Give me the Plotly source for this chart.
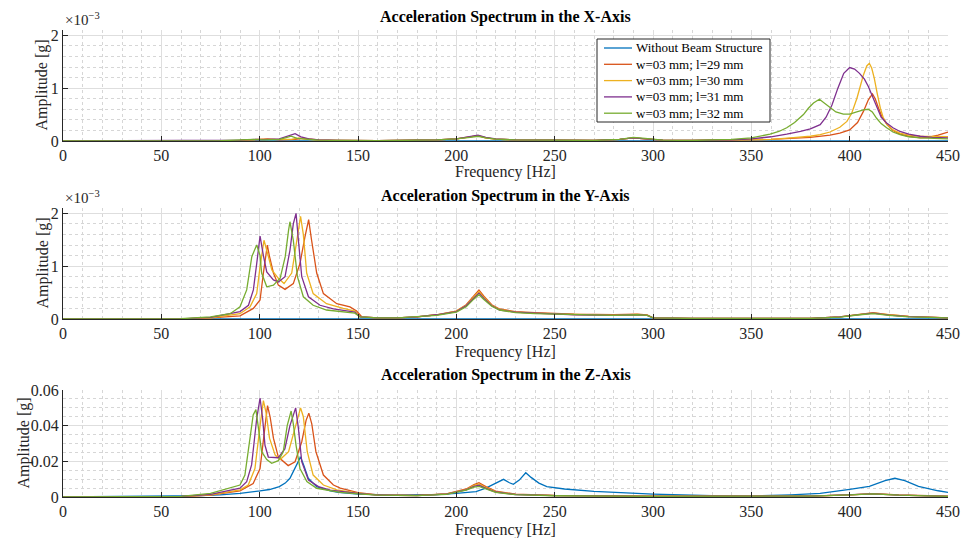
import plotly.graph_objects as go

# ---------------- DATA ----------------
series_names = ["Without Beam Structure", "w=03 mm; l=29 mm", "w=03 mm; l=30 mm",
                "w=03 mm; l=31 mm", "w=03 mm; l=32 mm"]
series_colors = ["#0072BD", "#D95319", "#EDB120", "#7E2F8E", "#77AC30"]

# X-axis spectrum (amplitude in 1e-3 g)
x_ref_f = [0, 100, 118, 200, 450]
x_ref_a = [0.0, 0.004, 0.006, 0.004, 0.004]
x_l29_f = [0, 80, 90, 100, 104, 110, 118, 122, 125, 130, 140, 160, 190, 200, 207, 211, 215, 220, 230, 250, 270,
           283, 290, 296, 305, 320, 340, 360, 370, 380, 390, 395, 400, 404, 407, 409.5, 411.6, 413, 414.7, 416.5,
           419, 422, 425.6, 430, 436, 440, 445, 450]
x_l29_a = [0, 0.005, 0.01, 0.03, 0.04, 0.02, 0.03, 0.05, 0.04, 0.02, 0.01, 0.005, 0.02, 0.04, 0.08, 0.1, 0.06,
           0.035, 0.02, 0.01, 0.01, 0.03, 0.06, 0.04, 0.015, 0.01, 0.015, 0.03, 0.05, 0.07, 0.11, 0.15, 0.21, 0.35,
           0.56, 0.78, 0.89, 0.8, 0.62, 0.45, 0.31, 0.2, 0.13, 0.09, 0.06, 0.07, 0.11, 0.17]
x_l30_f = [0, 80, 90, 100, 104, 110, 116, 120, 124, 130, 140, 160, 190, 200, 207, 211, 215, 220, 230, 250, 270,
           283, 290, 296, 305, 320, 340, 360, 370, 380, 385, 390, 395, 398.6, 401, 403.7, 405.5, 407, 408.7, 410,
           411.2, 412.5, 414, 415.6, 417, 419, 422, 425.6, 430, 436, 450]
x_l30_a = [0, 0.005, 0.01, 0.03, 0.03, 0.02, 0.03, 0.06, 0.03, 0.015, 0.01, 0.005, 0.02, 0.04, 0.08, 0.1, 0.06,
           0.035, 0.02, 0.01, 0.01, 0.03, 0.06, 0.04, 0.015, 0.01, 0.015, 0.03, 0.06, 0.09, 0.12, 0.17, 0.26, 0.37,
           0.52, 0.81, 1.05, 1.25, 1.42, 1.47, 1.38, 1.19, 0.9, 0.62, 0.45, 0.31, 0.21, 0.15, 0.11, 0.09, 0.08]
x_l31_f = [0, 80, 90, 98, 102, 110, 115, 118, 121, 125, 130, 140, 160, 190, 200, 207, 211, 215, 220, 230, 250,
           270, 283, 290, 296, 305, 320, 340, 350, 360, 368, 375, 380, 385, 388, 391, 394, 397, 400, 402.5, 405,
           407.5, 409.5, 411.5, 413.7, 416, 418.8, 422, 425.6, 430, 435.8, 442, 450]
x_l31_a = [0, 0.005, 0.015, 0.03, 0.025, 0.04, 0.1, 0.14, 0.08, 0.04, 0.02, 0.01, 0.005, 0.02, 0.04, 0.08, 0.11,
           0.07, 0.04, 0.02, 0.01, 0.01, 0.03, 0.06, 0.04, 0.015, 0.01, 0.02, 0.04, 0.08, 0.13, 0.18, 0.23, 0.31,
           0.45, 0.68, 1.0, 1.28, 1.39, 1.36, 1.28, 1.17, 1.03, 0.85, 0.62, 0.45, 0.34, 0.25, 0.18, 0.13, 0.09,
           0.07, 0.06]
x_l32_f = [0, 80, 90, 97, 102, 110, 113, 116, 119, 124, 130, 140, 160, 190, 200, 207, 211, 215, 220, 230, 250,
           270, 283, 290, 296, 305, 320, 340, 350, 355, 359.5, 364, 368, 372, 376.5, 379, 381.6, 384.6, 387, 390,
           393, 396.8, 400, 403.6, 407, 409.5, 411.5, 413.7, 416, 418.8, 422, 425.6, 430, 436, 450]
x_l32_a = [0, 0.005, 0.02, 0.03, 0.02, 0.03, 0.06, 0.09, 0.05, 0.03, 0.015, 0.01, 0.005, 0.02, 0.04, 0.07, 0.09,
           0.06, 0.035, 0.02, 0.01, 0.01, 0.03, 0.07, 0.05, 0.015, 0.01, 0.03, 0.06, 0.09, 0.13, 0.18, 0.25, 0.35,
           0.5, 0.62, 0.72, 0.79, 0.72, 0.62, 0.55, 0.51, 0.51, 0.55, 0.59, 0.60, 0.55, 0.43, 0.33, 0.25, 0.17,
           0.12, 0.08, 0.06, 0.04]

# Y-axis spectrum (amplitude in 1e-3 g)
y_ref_f = [0, 450]
y_ref_a = [0.0, 0.0]
y_l29_f = [0, 60, 75, 90, 96.8, 100.2, 101.9, 103.9, 104.9, 107, 109.5, 112.9, 117.1, 120.5, 123, 124.9, 126.4,
           129, 132.4, 139.2, 145.9, 149.3, 152, 160, 170, 180, 190, 200, 205, 209, 211.5, 214, 218, 222, 230,
           240, 260, 280, 292, 297, 300, 320, 380, 395, 405, 412, 420, 430, 450]
y_l29_a = [0, 0.003, 0.02, 0.06, 0.2, 0.36, 0.87, 1.40, 1.2, 0.87, 0.64, 0.56, 0.67, 1.05, 1.55, 1.88, 1.49, 0.87,
           0.48, 0.29, 0.23, 0.15, 0.04, 0.02, 0.02, 0.04, 0.08, 0.15, 0.27, 0.45, 0.55, 0.43, 0.27, 0.19, 0.14,
           0.12, 0.09, 0.08, 0.09, 0.08, 0.02, 0.01, 0.01, 0.04, 0.09, 0.12, 0.08, 0.05, 0.02]
y_l30_f = [0, 60, 75, 90, 95.1, 98.5, 100.2, 102.2, 103.6, 106.2, 109.5, 112.4, 116.3, 118.8, 120.8, 122.2, 123.9,
           127.2, 134, 142.5, 148.4, 151, 160, 170, 180, 190, 200, 205, 209, 211.5, 214, 218, 222, 230, 240, 260,
           280, 292, 297, 300, 320, 380, 395, 405, 412, 420, 430, 450]
y_l30_a = [0, 0.003, 0.02, 0.1, 0.23, 0.48, 0.99, 1.49, 1.3, 0.93, 0.77, 0.67, 0.87, 1.49, 1.94, 1.6, 0.87, 0.48,
           0.29, 0.2, 0.15, 0.04, 0.02, 0.02, 0.04, 0.08, 0.15, 0.26, 0.43, 0.52, 0.41, 0.26, 0.18, 0.13, 0.11,
           0.085, 0.075, 0.085, 0.075, 0.02, 0.01, 0.01, 0.04, 0.09, 0.115, 0.08, 0.05, 0.02]
y_l31_f = [0, 60, 75, 90, 94.3, 96.8, 98.5, 100.2, 101.9, 103.6, 107, 109.5, 112.9, 115.4, 117.1, 118.5, 119.7,
           121.4, 124.8, 130.7, 137.5, 148.4, 151, 160, 170, 180, 190, 200, 205, 209, 211.5, 214, 218, 222, 230,
           240, 260, 280, 292, 297, 300, 320, 380, 395, 405, 412, 420, 430, 450]
y_l31_a = [0, 0.004, 0.03, 0.14, 0.26, 0.55, 1.05, 1.57, 1.2, 0.89, 0.74, 0.70, 0.8, 1.3, 1.8, 2.0, 1.49, 0.8,
           0.42, 0.26, 0.19, 0.13, 0.04, 0.02, 0.02, 0.04, 0.08, 0.14, 0.25, 0.4, 0.49, 0.39, 0.25, 0.17, 0.13,
           0.11, 0.08, 0.07, 0.08, 0.07, 0.02, 0.01, 0.01, 0.04, 0.085, 0.11, 0.075, 0.045, 0.02]
y_l32_f = [0, 60, 75, 85, 90, 93.4, 96, 98.5, 100.2, 101, 103.6, 107, 110.4, 113, 114.7, 115.4, 117.1, 119.2,
           122.2, 127.2, 134, 142.5, 148.4, 151, 160, 170, 180, 190, 200, 205, 209, 211.5, 214, 218, 222, 230,
           240, 260, 280, 292, 297, 300, 320, 380, 395, 405, 412, 420, 430, 450]
y_l32_a = [0, 0.005, 0.04, 0.1, 0.23, 0.55, 1.18, 1.40, 1.2, 0.87, 0.61, 0.64, 0.77, 1.18, 1.68, 1.84, 1.49, 0.8,
           0.42, 0.26, 0.17, 0.14, 0.11, 0.04, 0.02, 0.02, 0.04, 0.07, 0.13, 0.23, 0.38, 0.46, 0.37, 0.24, 0.17,
           0.12, 0.1, 0.08, 0.07, 0.08, 0.07, 0.02, 0.01, 0.01, 0.035, 0.08, 0.1, 0.07, 0.04, 0.02]

# Z-axis spectrum (amplitude in g)
z_ref_f = [0, 50, 70, 80, 90, 100.2, 105, 110, 113, 115.4, 118.8, 120.8, 122.5, 124.7, 129, 135.9, 140, 150, 170,
           190, 200, 210, 215, 220, 224, 227, 229, 232, 235.3, 238, 242, 246, 255, 270, 300, 330, 350, 370, 385,
           400, 410, 418, 423, 428, 435, 445, 450]
z_ref_a = [0, 0.0003, 0.0008, 0.0012, 0.002, 0.0034, 0.0042, 0.0058, 0.0078, 0.0105, 0.018, 0.0225, 0.0176,
           0.0105, 0.0058, 0.0034, 0.0026, 0.0016, 0.0011, 0.0014, 0.002, 0.003, 0.005, 0.0075, 0.0099, 0.008,
           0.0071, 0.0095, 0.0136, 0.011, 0.0078, 0.0058, 0.0045, 0.0032, 0.0016, 0.0007, 0.0005, 0.0012, 0.002,
           0.0043, 0.006, 0.0092, 0.0105, 0.0092, 0.006, 0.0035, 0.0026]
z_l29_f = [0, 60, 75, 90, 96.7, 100.2, 102.2, 104, 105.3, 107, 109.5, 114.5, 118, 121.4, 123.6, 125, 126.5, 128.6,
           132.4, 137.5, 141, 150, 160, 180, 195, 205, 209, 211.5, 215, 220, 230, 250, 300, 380, 400, 412, 425, 450]
z_l29_a = [0, 0.0002, 0.001, 0.0034, 0.0076, 0.016, 0.0347, 0.0512, 0.045, 0.033, 0.0224, 0.0176, 0.0198, 0.031,
           0.043, 0.047, 0.041, 0.0254, 0.0123, 0.0067, 0.005, 0.0025, 0.0012, 0.0009, 0.0018, 0.0045, 0.007,
           0.008, 0.0058, 0.0033, 0.0016, 0.0009, 0.0005, 0.0005, 0.0012, 0.0019, 0.0012, 0.0005]
z_l30_f = [0, 60, 75, 90, 94.2, 97.6, 100.2, 101.9, 103.3, 105, 107.9, 110.4, 114.7, 118.1, 120.8, 122.2, 124.2,
           127.2, 132.4, 139.2, 150, 160, 180, 195, 205, 209, 211.5, 215, 220, 230, 250, 300, 380, 400, 412, 425,
           450]
z_l30_a = [0, 0.0002, 0.0012, 0.004, 0.0067, 0.016, 0.040, 0.054, 0.047, 0.033, 0.0235, 0.021, 0.0254, 0.0385,
           0.050, 0.045, 0.0254, 0.0123, 0.0067, 0.004, 0.0022, 0.0011, 0.0008, 0.0017, 0.0042, 0.0065, 0.0073,
           0.0053, 0.003, 0.0015, 0.0008, 0.0005, 0.0005, 0.0012, 0.0018, 0.0011, 0.0004]
z_l31_f = [0, 60, 75, 90, 93.4, 95.9, 98.5, 100.2, 101.5, 102.7, 104.4, 109.4, 112.8, 115.4, 118.3, 119.7, 121.4,
           124.8, 129.9, 135.9, 150, 160, 180, 195, 205, 209, 211.5, 215, 220, 230, 250, 300, 380, 400, 412, 425,
           450]
z_l31_a = [0, 0.0003, 0.0015, 0.0049, 0.0086, 0.018, 0.044, 0.0555, 0.044, 0.029, 0.0224, 0.022, 0.027, 0.040,
           0.050, 0.0385, 0.0198, 0.0095, 0.0058, 0.0039, 0.002, 0.001, 0.0008, 0.0016, 0.004, 0.006, 0.0066,
           0.0048, 0.0028, 0.0014, 0.0008, 0.0004, 0.0005, 0.0012, 0.0018, 0.0011, 0.0004]
z_l32_f = [0, 60, 75, 90, 92.5, 95, 96.7, 98.1, 99.3, 101, 103.6, 106.1, 109.5, 112, 114, 116, 117.1, 118.5,
           120.5, 124, 129, 135.9, 141, 150, 160, 180, 195, 205, 209, 211.5, 215, 220, 230, 250, 300, 380, 400, 412,
           425, 450]
z_l32_a = [0, 0.0004, 0.002, 0.0067, 0.0123, 0.031, 0.046, 0.049, 0.0385, 0.0254, 0.021, 0.0189, 0.0204, 0.0254,
           0.040, 0.0482, 0.041, 0.029, 0.016, 0.0086, 0.0049, 0.0034, 0.0026, 0.0018, 0.001, 0.0008, 0.0015, 0.0038,
           0.0055, 0.006, 0.0045, 0.0026, 0.0013, 0.0007, 0.0004, 0.0005, 0.0012, 0.0018, 0.001, 0.0004]

x_tick_vals = [0, 50, 100, 150, 200, 250, 300, 350, 400, 450]
y_tick_vals_e3 = [0, 1, 2]
z_tick_vals = [0, 0.02, 0.04, 0.06]
z_tick_text = ["0", "0.02", "0.04", "0.06"]

titles = ["Acceleration Spectrum in the X-Axis", "Acceleration Spectrum in the Y-Axis",
          "Acceleration Spectrum in the Z-Axis"]

panels = [
    [(x_ref_f, x_ref_a), (x_l29_f, x_l29_a), (x_l30_f, x_l30_a), (x_l31_f, x_l31_a), (x_l32_f, x_l32_a)],
    [(y_ref_f, y_ref_a), (y_l29_f, y_l29_a), (y_l30_f, y_l30_a), (y_l31_f, y_l31_a), (y_l32_f, y_l32_a)],
    [(z_ref_f, z_ref_a), (z_l29_f, z_l29_a), (z_l30_f, z_l30_a), (z_l31_f, z_l31_a), (z_l32_f, z_l32_a)],
]

# ---------------- LAYOUT ----------------
W, H = 966, 538
L, R = 63, 948
FONT = "Liberation Serif, Times New Roman, serif"
AX = "#262626"

def py(p):
    return 1 - p / H

def px(p):
    return (p - L) / (R - L)

plot_px = [(30, 141), (208, 319), (390, 497)]
yranges = [[0, 2.1], [0, 2.1], [0, 0.06]]

fig = go.Figure()
for i, panel in enumerate(panels):
    for j, (f, a) in enumerate(panel):
        fig.add_trace(go.Scatter(
            x=f, y=a, mode="lines", name=series_names[j],
            line=dict(color=series_colors[j], width=1.3),
            showlegend=False,
            xaxis="x" if i == 0 else f"x{i+1}", yaxis="y" if i == 0 else f"y{i+1}",
        ))

layout = dict(
    template="none",
    width=W, height=H, margin=dict(l=L, r=W - R, t=0, b=0, pad=0, autoexpand=False),
    paper_bgcolor="white", plot_bgcolor="white",
    font=dict(family=FONT, size=16, color=AX),
    showlegend=False,
)

for i in range(3):
    xk = "xaxis" if i == 0 else f"xaxis{i+1}"
    yk = "yaxis" if i == 0 else f"yaxis{i+1}"
    top, bot = plot_px[i]
    layout[xk] = dict(
        domain=[0, 1], range=[0, 450], anchor="y" if i == 0 else f"y{i+1}", automargin=False,
        tickvals=x_tick_vals, ticks="inside", ticklen=5, tickcolor=AX, tickwidth=1,
        showline=True, linecolor=AX, linewidth=1, zeroline=False,
        showgrid=True, gridcolor="#dedede", gridwidth=1,
        minor=dict(dtick=10, tick0=0, showgrid=True, gridcolor="#d6d6d6", griddash="dot", gridwidth=1, ticks=""),
        tickfont=dict(family=FONT, size=16, color=AX),
    )
    if i < 2:
        ytv, ytt, minor_dt = y_tick_vals_e3, [str(v) for v in y_tick_vals_e3], 0.2
    else:
        ytv, ytt, minor_dt = z_tick_vals, z_tick_text, 0.005
    layout[yk] = dict(
        domain=[py(bot), py(top)], range=yranges[i], anchor="x" if i == 0 else f"x{i+1}", automargin=False,
        tickvals=ytv, ticktext=ytt, ticks="inside", ticklen=5, tickcolor=AX, tickwidth=1,
        showline=True, linecolor=AX, linewidth=1, zeroline=False,
        showgrid=True, gridcolor="#dedede", gridwidth=1,
        minor=dict(dtick=minor_dt, tick0=0, showgrid=True, gridcolor="#d6d6d6", griddash="dot", gridwidth=1, ticks=""),
        tickfont=dict(family=FONT, size=16, color=AX),
    )

fig.update_layout(**layout)

ann = []
shapes = []
title_y = [17, 196, 375]
xlabel_y = [172, 352, 530]
ylabel_x = [42, 42, 23]
for i in range(3):
    top, bot = plot_px[i]
    ann.append(dict(text="<b>" + titles[i] + "</b>", x=0.5, y=py(title_y[i]), xref="paper", yref="paper",
                    showarrow=False, xanchor="center", yanchor="middle",
                    font=dict(family=FONT, size=16, color="#000")))
    ann.append(dict(text="Frequency [Hz]", x=0.5, y=py(xlabel_y[i]), xref="paper", yref="paper",
                    showarrow=False, xanchor="center", yanchor="middle",
                    font=dict(family=FONT, size=16, color=AX)))
    ann.append(dict(text="Amplitude [g]", x=px(ylabel_x[i]), y=py((top + bot) / 2), xref="paper", yref="paper",
                    showarrow=False, xanchor="center", yanchor="middle", textangle=-90,
                    font=dict(family=FONT, size=16, color=AX)))
for yy in [19, 197]:
    ann.append(dict(text="×10<sup>−3</sup>", x=px(63), y=py(yy), xref="paper", yref="paper",
                    showarrow=False, xanchor="left", yanchor="middle",
                    font=dict(family=FONT, size=15, color=AX)))

# Legend box drawn inside the X-axis panel
leg_x0, leg_x1, leg_y0, leg_y1 = 597, 770, 39, 122
shapes.append(dict(type="rect", xref="paper", yref="paper", x0=px(leg_x0), x1=px(leg_x1),
                   y0=py(leg_y1), y1=py(leg_y0), line=dict(color="#262626", width=1),
                   fillcolor="white", layer="above"))
for j, name in enumerate(series_names):
    ry = 48 + j * 16.3
    shapes.append(dict(type="line", xref="paper", yref="paper", x0=px(604), x1=px(632), y0=py(ry), y1=py(ry),
                       line=dict(color=series_colors[j], width=1.3), layer="above"))
    ann.append(dict(text=name, x=px(634), y=py(ry), xref="paper", yref="paper", showarrow=False,
                    xanchor="left", yanchor="middle", font=dict(family=FONT, size=13, color="#000")))

fig.update_layout(annotations=ann, shapes=shapes)

fig.write_html("out.html")
